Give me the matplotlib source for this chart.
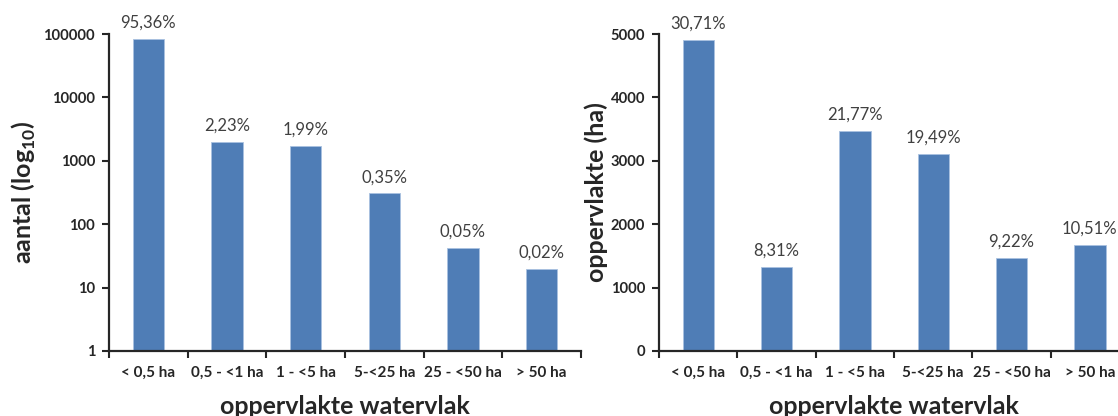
import matplotlib
matplotlib.use("Agg")
import matplotlib.pyplot as plt
from matplotlib.ticker import FixedLocator, NullFormatter

plt.rcParams['font.family'] = ['Lato', 'DejaVu Sans']
plt.rcParams['mathtext.fontset'] = 'custom'
plt.rcParams['mathtext.rm'] = 'Lato'
plt.rcParams['mathtext.bf'] = 'Lato:bold'

categories = ['< 0,5 ha', '0,5 - <1 ha', '1 - <5 ha', '5-<25 ha', '25 - <50 ha', '> 50 ha']

count_values = [82500, 1950, 1740, 305, 42, 20]
count_pct = ['95,36%', '2,23%', '1,99%', '0,35%', '0,05%', '0,02%']

area_values = [4905, 1327, 3477, 3113, 1472, 1678]
area_pct = ['30,71%', '8,31%', '21,77%', '19,49%', '9,22%', '10,51%']

count_ticks = [1, 10, 100, 1000, 10000, 100000]
area_ticks = [0, 1000, 2000, 3000, 4000, 5000]

BAR = '#4F7DB6'
TXT = '#262626'
W, H = 1118, 416

fig = plt.figure(figsize=(W / 100, H / 100), dpi=100)

ax1 = fig.add_axes([109 / W, (H - 351) / H, 472 / W, 317 / H])
ax2 = fig.add_axes([659 / W, (H - 351) / H, 470 / W, 317 / H])


def style(ax, values, pct, yticks, ylabel, log, ylabel_x):
    x = list(range(len(categories)))
    bars = ax.bar(x, values, width=0.4, color=BAR, edgecolor='#A9C1E0',
                  linewidth=0.6, zorder=2)
    for b, lab in zip(bars, pct):
        ax.annotate(lab, (b.get_x() + b.get_width() / 2, b.get_height()),
                    xytext=(0, 6), textcoords='offset points',
                    ha='center', va='bottom', fontsize=12, color='#404040')
    if log:
        ax.set_yscale('log')
        ax.set_ylim(1, 100000)
    else:
        ax.set_ylim(0, 5000)
    ax.yaxis.set_major_locator(FixedLocator(yticks))
    ax.yaxis.set_minor_locator(FixedLocator([]))
    ax.set_yticklabels([str(t) for t in yticks], fontsize=10.6, fontweight='bold',
                       color=TXT)
    ax.set_xlim(-0.5, len(categories) - 0.5)
    ax.xaxis.set_major_locator(FixedLocator([i - 0.5 for i in range(len(categories) + 1)]))
    ax.xaxis.set_major_formatter(NullFormatter())
    ax.xaxis.set_minor_locator(FixedLocator(x))
    ax.set_xticklabels(categories, minor=True, fontsize=11, fontweight='bold',
                       color=TXT)
    ax.tick_params(axis='x', which='minor', length=0, pad=11)
    ax.tick_params(axis='x', which='major', direction='out', length=5, width=1.5,
                   color=TXT)
    ax.tick_params(axis='y', which='major', direction='out', length=5, width=1.5,
                   color=TXT, pad=5)
    for s in ('top', 'right'):
        ax.spines[s].set_visible(False)
    for s in ('left', 'bottom'):
        ax.spines[s].set_linewidth(1.6)
        ax.spines[s].set_color(TXT)
    ax.set_xlabel('oppervlakte watervlak', fontsize=18, fontweight='bold',
                  color=TXT, va='baseline')
    ax.xaxis.set_label_coords(0.5, (351 - 414) / 317)
    ax.set_ylabel(ylabel, fontsize=18, fontweight='bold', color=TXT, va='center')
    ax.yaxis.set_label_coords(ylabel_x, 0.5)


style(ax1, count_values, count_pct, count_ticks,
      r'aantal (log$_{\mathbf{10}}$)', True, (24 - 109) / 472)
style(ax2, area_values, area_pct, area_ticks, 'oppervlakte (ha)', False,
      (596 - 659) / 470)

fig.savefig('out.png', dpi=100)
